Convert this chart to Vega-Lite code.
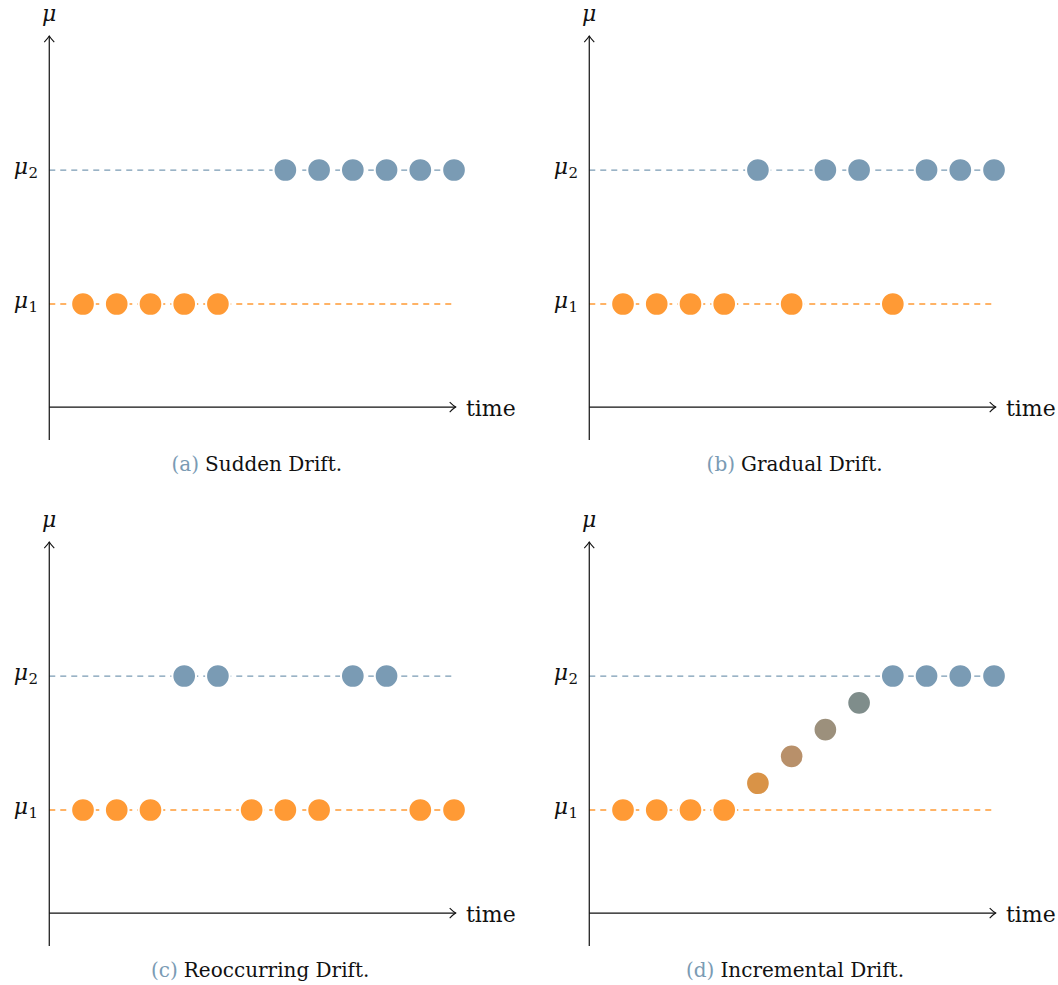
{
  "$schema": "https://vega.github.io/schema/vega-lite/v6.json",
  "padding": 0,
  "autosize": {"type": "pad"},
  "config": {"view": {"stroke": null}, "font": "DejaVu Serif"},
  "data": {
    "values": [
      {"kind": "pt", "row": 1, "col": 1, "t": 1, "v": 1, "tone": "mu1"},
      {"kind": "pt", "row": 1, "col": 1, "t": 2, "v": 1, "tone": "mu1"},
      {"kind": "pt", "row": 1, "col": 1, "t": 3, "v": 1, "tone": "mu1"},
      {"kind": "pt", "row": 1, "col": 1, "t": 4, "v": 1, "tone": "mu1"},
      {"kind": "pt", "row": 1, "col": 1, "t": 5, "v": 1, "tone": "mu1"},
      {"kind": "pt", "row": 1, "col": 1, "t": 7, "v": 2, "tone": "mu2"},
      {"kind": "pt", "row": 1, "col": 1, "t": 8, "v": 2, "tone": "mu2"},
      {"kind": "pt", "row": 1, "col": 1, "t": 9, "v": 2, "tone": "mu2"},
      {"kind": "pt", "row": 1, "col": 1, "t": 10, "v": 2, "tone": "mu2"},
      {"kind": "pt", "row": 1, "col": 1, "t": 11, "v": 2, "tone": "mu2"},
      {"kind": "pt", "row": 1, "col": 1, "t": 12, "v": 2, "tone": "mu2"},

      {"kind": "pt", "row": 1, "col": 2, "t": 1, "v": 1, "tone": "mu1"},
      {"kind": "pt", "row": 1, "col": 2, "t": 2, "v": 1, "tone": "mu1"},
      {"kind": "pt", "row": 1, "col": 2, "t": 3, "v": 1, "tone": "mu1"},
      {"kind": "pt", "row": 1, "col": 2, "t": 4, "v": 1, "tone": "mu1"},
      {"kind": "pt", "row": 1, "col": 2, "t": 5, "v": 2, "tone": "mu2"},
      {"kind": "pt", "row": 1, "col": 2, "t": 6, "v": 1, "tone": "mu1"},
      {"kind": "pt", "row": 1, "col": 2, "t": 7, "v": 2, "tone": "mu2"},
      {"kind": "pt", "row": 1, "col": 2, "t": 8, "v": 2, "tone": "mu2"},
      {"kind": "pt", "row": 1, "col": 2, "t": 9, "v": 1, "tone": "mu1"},
      {"kind": "pt", "row": 1, "col": 2, "t": 10, "v": 2, "tone": "mu2"},
      {"kind": "pt", "row": 1, "col": 2, "t": 11, "v": 2, "tone": "mu2"},
      {"kind": "pt", "row": 1, "col": 2, "t": 12, "v": 2, "tone": "mu2"},

      {"kind": "pt", "row": 2, "col": 1, "t": 1, "v": 1, "tone": "mu1"},
      {"kind": "pt", "row": 2, "col": 1, "t": 2, "v": 1, "tone": "mu1"},
      {"kind": "pt", "row": 2, "col": 1, "t": 3, "v": 1, "tone": "mu1"},
      {"kind": "pt", "row": 2, "col": 1, "t": 4, "v": 2, "tone": "mu2"},
      {"kind": "pt", "row": 2, "col": 1, "t": 5, "v": 2, "tone": "mu2"},
      {"kind": "pt", "row": 2, "col": 1, "t": 6, "v": 1, "tone": "mu1"},
      {"kind": "pt", "row": 2, "col": 1, "t": 7, "v": 1, "tone": "mu1"},
      {"kind": "pt", "row": 2, "col": 1, "t": 8, "v": 1, "tone": "mu1"},
      {"kind": "pt", "row": 2, "col": 1, "t": 9, "v": 2, "tone": "mu2"},
      {"kind": "pt", "row": 2, "col": 1, "t": 10, "v": 2, "tone": "mu2"},
      {"kind": "pt", "row": 2, "col": 1, "t": 11, "v": 1, "tone": "mu1"},
      {"kind": "pt", "row": 2, "col": 1, "t": 12, "v": 1, "tone": "mu1"},

      {"kind": "pt", "row": 2, "col": 2, "t": 1, "v": 1, "tone": "mu1"},
      {"kind": "pt", "row": 2, "col": 2, "t": 2, "v": 1, "tone": "mu1"},
      {"kind": "pt", "row": 2, "col": 2, "t": 3, "v": 1, "tone": "mu1"},
      {"kind": "pt", "row": 2, "col": 2, "t": 4, "v": 1, "tone": "mu1"},
      {"kind": "pt", "row": 2, "col": 2, "t": 5, "v": 1.2, "tone": "s1"},
      {"kind": "pt", "row": 2, "col": 2, "t": 6, "v": 1.4, "tone": "s2"},
      {"kind": "pt", "row": 2, "col": 2, "t": 7, "v": 1.6, "tone": "s3"},
      {"kind": "pt", "row": 2, "col": 2, "t": 8, "v": 1.8, "tone": "s4"},
      {"kind": "pt", "row": 2, "col": 2, "t": 9, "v": 2, "tone": "mu2"},
      {"kind": "pt", "row": 2, "col": 2, "t": 10, "v": 2, "tone": "mu2"},
      {"kind": "pt", "row": 2, "col": 2, "t": 11, "v": 2, "tone": "mu2"},
      {"kind": "pt", "row": 2, "col": 2, "t": 12, "v": 2, "tone": "mu2"},

      {"kind": "ref", "row": 1, "col": 1, "v": 1, "sub": "1", "tone": "mu1"},
      {"kind": "ref", "row": 1, "col": 1, "v": 2, "sub": "2", "tone": "mu2"},
      {"kind": "ref", "row": 1, "col": 2, "v": 1, "sub": "1", "tone": "mu1"},
      {"kind": "ref", "row": 1, "col": 2, "v": 2, "sub": "2", "tone": "mu2"},
      {"kind": "ref", "row": 2, "col": 1, "v": 1, "sub": "1", "tone": "mu1"},
      {"kind": "ref", "row": 2, "col": 1, "v": 2, "sub": "2", "tone": "mu2"},
      {"kind": "ref", "row": 2, "col": 2, "v": 1, "sub": "1", "tone": "mu1"},
      {"kind": "ref", "row": 2, "col": 2, "v": 2, "sub": "2", "tone": "mu2"},

      {"kind": "cap", "row": 1, "col": 1, "tag": "(a)", "title": "Sudden Drift.", "at": 4.53},
      {"kind": "cap", "row": 1, "col": 2, "tag": "(b)", "title": "Gradual Drift.", "at": 4.41},
      {"kind": "cap", "row": 2, "col": 1, "tag": "(c)", "title": "Reoccurring Drift.", "at": 3.9},
      {"kind": "cap", "row": 2, "col": 2, "tag": "(d)", "title": "Incremental Drift.", "at": 3.8}
    ]
  },
  "facet": {
    "row": {"field": "row", "type": "ordinal", "header": {"title": null, "labels": false}},
    "column": {"field": "col", "type": "ordinal", "header": {"title": null, "labels": false}}
  },
  "spacing": {"row": 27, "column": 22},
  "bounds": "flush",
  "spec": {
    "width": 518,
    "height": 479,
    "layer": [
      {
        "transform": [{"filter": "datum.kind === 'ref'"}],
        "mark": {"type": "rule", "strokeDash": [6, 5], "strokeWidth": 1.3, "opacity": 1},
        "encoding": {
          "x": {"datum": 0, "type": "quantitative", "scale": {"domain": [-1.4607, 13.897], "nice": false, "zero": false}, "axis": null},
          "x2": {"datum": 12},
          "y": {"field": "v", "type": "quantitative", "scale": {"domain": [-0.306, 3.269], "nice": false, "zero": false}, "axis": null},
          "color": {"field": "tone", "type": "nominal", "legend": null,
            "scale": {"domain": ["mu1", "s1", "s2", "s3", "s4", "mu2"], "range": ["#ff9a35", "#d99347", "#b8906a", "#9c907c", "#7f8d8b", "#7a9bb4"]}}
        }
      },
      {
        "transform": [{"filter": "datum.kind === 'cap'"}],
        "mark": {"type": "rule", "strokeWidth": 1.2, "color": "#111111"},
        "encoding": {
          "x": {"datum": 0, "type": "quantitative", "scale": {"domain": [-1.4607, 13.897], "nice": false, "zero": false}, "axis": null},
          "y": {"datum": -0.015, "type": "quantitative", "scale": {"domain": [-0.306, 3.269], "nice": false, "zero": false}, "axis": null},
          "y2": {"datum": 3.0}
        }
      },
      {
        "transform": [{"filter": "datum.kind === 'cap'"}],
        "mark": {"type": "rule", "strokeWidth": 1.2, "color": "#111111"},
        "encoding": {
          "x": {"datum": 0, "type": "quantitative", "scale": {"domain": [-1.4607, 13.897], "nice": false, "zero": false}, "axis": null},
          "x2": {"datum": 12.05},
          "y": {"datum": 0.231, "type": "quantitative", "scale": {"domain": [-0.306, 3.269], "nice": false, "zero": false}, "axis": null}
        }
      },
      {
        "transform": [{"filter": "datum.kind === 'cap'"}],
        "mark": {"type": "point", "filled": false, "stroke": "#111111", "strokeWidth": 1.1, "opacity": 1, "size": 100,
          "shape": "M -1 1.2 Q -0.3 0.5 0 0 Q 0.3 0.5 1 1.2"},
        "encoding": {
          "x": {"datum": 0, "type": "quantitative", "scale": {"domain": [-1.4607, 13.897], "nice": false, "zero": false}, "axis": null},
          "y": {"datum": 3.0, "type": "quantitative", "scale": {"domain": [-0.306, 3.269], "nice": false, "zero": false}, "axis": null}
        }
      },
      {
        "transform": [{"filter": "datum.kind === 'cap'"}],
        "mark": {"type": "point", "filled": false, "stroke": "#111111", "strokeWidth": 1.1, "opacity": 1, "size": 100,
          "shape": "M -1.2 -1 Q -0.5 -0.3 0 0 Q -0.5 0.3 -1.2 1"},
        "encoding": {
          "x": {"datum": 12.05, "type": "quantitative", "scale": {"domain": [-1.4607, 13.897], "nice": false, "zero": false}, "axis": null},
          "y": {"datum": 0.231, "type": "quantitative", "scale": {"domain": [-0.306, 3.269], "nice": false, "zero": false}, "axis": null}
        }
      },
      {
        "transform": [{"filter": "datum.kind === 'pt'"}],
        "mark": {"type": "circle", "size": 560, "opacity": 1, "stroke": "white", "strokeWidth": 2},
        "encoding": {
          "x": {"field": "t", "type": "quantitative", "scale": {"domain": [-1.4607, 13.897], "nice": false, "zero": false}, "axis": null},
          "y": {"field": "v", "type": "quantitative", "scale": {"domain": [-0.306, 3.269], "nice": false, "zero": false}, "axis": null},
          "color": {"field": "tone", "type": "nominal", "legend": null,
            "scale": {"domain": ["mu1", "s1", "s2", "s3", "s4", "mu2"], "range": ["#ff9a35", "#d99347", "#b8906a", "#9c907c", "#7f8d8b", "#7a9bb4"]}}
        }
      },
      {
        "transform": [{"filter": "datum.kind === 'ref'"}],
        "mark": {"type": "text", "text": "μ", "fontStyle": "italic", "fontSize": 22, "align": "right", "baseline": "alphabetic", "dy": 4, "color": "#111111"},
        "encoding": {
          "x": {"datum": -0.63, "type": "quantitative", "scale": {"domain": [-1.4607, 13.897], "nice": false, "zero": false}, "axis": null},
          "y": {"field": "v", "type": "quantitative", "scale": {"domain": [-0.306, 3.269], "nice": false, "zero": false}, "axis": null}
        }
      },
      {
        "transform": [{"filter": "datum.kind === 'ref'"}],
        "mark": {"type": "text", "fontSize": 15, "align": "left", "baseline": "alphabetic", "dy": 8, "dx": 0.5, "color": "#111111"},
        "encoding": {
          "x": {"datum": -0.63, "type": "quantitative", "scale": {"domain": [-1.4607, 13.897], "nice": false, "zero": false}, "axis": null},
          "y": {"field": "v", "type": "quantitative", "scale": {"domain": [-0.306, 3.269], "nice": false, "zero": false}, "axis": null},
          "text": {"field": "sub"}
        }
      },
      {
        "transform": [{"filter": "datum.kind === 'cap'"}],
        "mark": {"type": "text", "text": "μ", "fontStyle": "italic", "fontSize": 22, "align": "center", "baseline": "alphabetic", "color": "#111111"},
        "encoding": {
          "x": {"datum": 0, "type": "quantitative", "scale": {"domain": [-1.4607, 13.897], "nice": false, "zero": false}, "axis": null},
          "y": {"datum": 3.112, "type": "quantitative", "scale": {"domain": [-0.306, 3.269], "nice": false, "zero": false}, "axis": null}
        }
      },
      {
        "transform": [{"filter": "datum.kind === 'cap'"}],
        "mark": {"type": "text", "text": "time", "fontSize": 22, "align": "left", "baseline": "alphabetic", "color": "#111111"},
        "encoding": {
          "x": {"datum": 12.355, "type": "quantitative", "scale": {"domain": [-1.4607, 13.897], "nice": false, "zero": false}, "axis": null},
          "y": {"datum": 0.165, "type": "quantitative", "scale": {"domain": [-0.306, 3.269], "nice": false, "zero": false}, "axis": null}
        }
      },
      {
        "transform": [{"filter": "datum.kind === 'cap'"}],
        "mark": {"type": "text", "fontSize": 20, "align": "right", "baseline": "alphabetic", "dx": -3, "color": "#7a9bb4"},
        "encoding": {
          "x": {"field": "at", "type": "quantitative", "scale": {"domain": [-1.4607, 13.897], "nice": false, "zero": false}, "axis": null},
          "y": {"datum": -0.25, "type": "quantitative", "scale": {"domain": [-0.306, 3.269], "nice": false, "zero": false}, "axis": null},
          "text": {"field": "tag"}
        }
      },
      {
        "transform": [{"filter": "datum.kind === 'cap'"}],
        "mark": {"type": "text", "fontSize": 20, "align": "left", "baseline": "alphabetic", "dx": 3, "color": "#111111"},
        "encoding": {
          "x": {"field": "at", "type": "quantitative", "scale": {"domain": [-1.4607, 13.897], "nice": false, "zero": false}, "axis": null},
          "y": {"datum": -0.25, "type": "quantitative", "scale": {"domain": [-0.306, 3.269], "nice": false, "zero": false}, "axis": null},
          "text": {"field": "title"}
        }
      }
    ]
  }
}
